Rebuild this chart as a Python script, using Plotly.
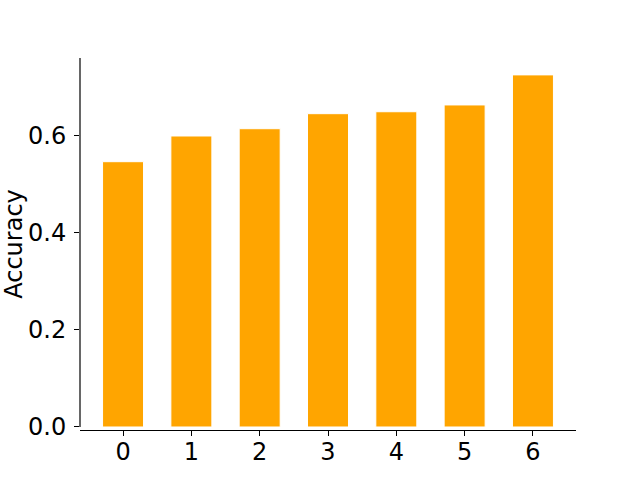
import plotly.graph_objects as go

# data
categories = [0, 1, 2, 3, 4, 5, 6]
accuracy = [0.547, 0.600, 0.615, 0.646, 0.650, 0.664, 0.726]

fig = go.Figure(go.Bar(
    x=categories, y=accuracy, width=0.6,
    marker=dict(color="#FFA500", line=dict(color="white", width=1)),
))

fig.update_layout(
    width=640, height=480,
    margin=dict(l=80, r=64, t=58, b=50),
    plot_bgcolor="white", paper_bgcolor="white",
    font=dict(family="DejaVu Sans", size=24, color="black"),
    showlegend=False,
    xaxis=dict(
        range=[-0.63, 6.63], tickmode="array", tickvals=categories,
        showline=True, linecolor="black", linewidth=1.2,
        ticks="outside", ticklen=5, tickwidth=1.2, tickcolor="black",
        tickfont=dict(size=24), showgrid=False, zeroline=False, automargin=False,
        ticklabelstandoff=-5,
    ),
    yaxis=dict(
        range=[-0.0062, 0.7608], tickvals=[0, 0.2, 0.4, 0.6], tickformat=".1f",
        showline=False, ticks="outside", ticklen=5, tickwidth=1.2, tickcolor="black",
        tickfont=dict(size=24), showgrid=False, zeroline=False, automargin=False,
        ticklabelstandoff=3,
        title=dict(text="Accuracy", standoff=6, font=dict(size=24)),
    ),
    # left spine stops at zero, like the offset spine in the reference
    shapes=[dict(type="line", xref="paper", yref="y", x0=0, x1=0, y0=0, y1=0.7608,
                 line=dict(color="black", width=1.2))],
)

fig.write_html("out.html", config={"displayModeBar": False},
               post_script="document.body.style.margin='0';")
